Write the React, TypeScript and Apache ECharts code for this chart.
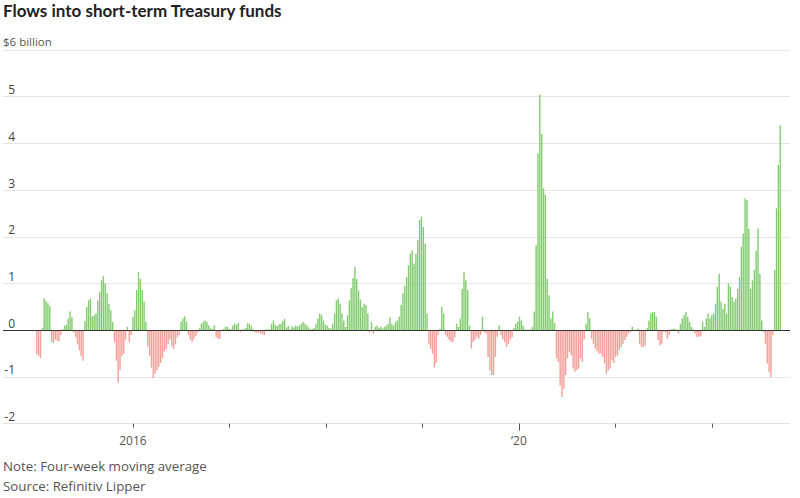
import React, { useEffect, useRef } from "react";
import * as echarts from "echarts";

// Weekly four-week moving average of flows, $ billion; first week ends Fri 2015-01-02
const START_UTC = Date.UTC(2015, 0, 2);

const weeks2015 = [
  -0.5, -0.55, -0.6, 0.05, 0.68, 0.62, 0.58, 0.52, -0.25, -0.27, -0.2, -0.22, -0.24, -0.1, 0.02, 0.1,
  0.12, 0.25, 0.4, 0.28, -0.04, -0.15, -0.3, -0.43, -0.55, -0.65, 0.2, 0.5, 0.64, 0.68, 0.3, 0.32,
  0.36, 0.64, 0.82, 1.07, 1.16, 1.0, 0.79, 0.57, 0.43, 0.18, -0.25, -0.65, -1.12, -0.85, -0.55, -0.5,
  -0.2, 0.07, -0.25, -0.1,
];
const weeks2016 = [
  0.29, 0.43, 0.86, 1.25, 1.1, 0.86, 0.62, 0.18, -0.35, -0.55, -0.8, -1.02, -0.93, -0.85, -0.78, -0.7,
  -0.6, -0.45, -0.4, -0.3, -0.2, -0.35, -0.4, -0.3, -0.15, -0.1, 0.18, 0.25, 0.3, 0.18, -0.1, -0.2,
  -0.25, -0.18, -0.12, -0.05, 0.04, 0.14, 0.18, 0.21, 0.18, 0.11, 0.04, 0.03, 0.1, -0.15, -0.18, -0.18,
  -0.02, 0.03, 0.07, 0.08,
];
const weeks2017 = [
  0.03, 0.02, 0.1, 0.14, 0.12, 0.16, -0.04, 0.02, 0.02, 0.05, 0.15, 0.14, 0.09, 0.02, -0.04, -0.06,
  -0.04, -0.07, -0.09, -0.1, 0.02, 0.02, 0.02, 0.14, 0.21, 0.11, 0.09, 0.13, 0.14, 0.2, 0.24, 0.06,
  0.09, 0.02, 0.08, 0.06, 0.1, 0.08, 0.1, 0.14, 0.18, 0.14, 0.1, 0.06, 0.02, 0.03, 0.05, 0.14,
  0.25, 0.36, 0.32, 0.21,
];
const weeks2018 = [
  0.12, 0.1, 0.05, 0.04, 0.14, 0.36, 0.64, 0.68, 0.57, 0.36, 0.21, 0.07, 0.32, 0.64, 0.9, 1.12,
  1.36, 1.1, 0.85, 0.66, 0.5, 0.57, 0.54, 0.36, -0.04, 0.18, -0.07, 0.07, 0.1, 0.05, 0.07, 0.04,
  0.07, 0.1, 0.14, 0.28, 0.14, 0.1, 0.18, 0.21, 0.29, 0.54, 0.79, 0.96, 1.14, 1.39, 1.64, 1.71,
  1.43, 1.64, 1.93, 2.36,
];
const weeks2019 = [
  2.43, 2.21, 1.86, 0.36, -0.3, -0.4, -0.5, -0.8, -0.7, -0.1, 0.04, 0.5, 0.36, -0.1, -0.14, -0.21,
  -0.25, -0.25, -0.15, 0.14, 0.07, 0.25, 0.89, 1.25, 1.07, 0.86, 0.1, -0.39, -0.25, -0.21, -0.14, -0.18,
  -0.1, 0.29, -0.04, -0.07, -0.57, -0.86, -0.96, -0.96, -0.57, -0.14, 0.1, -0.1, -0.2, -0.25, -0.36, -0.29,
  -0.2, -0.15, 0.05, 0.14,
];
const weeks2020 = [
  0.18, 0.29, 0.21, 0.1, 0.02, 0.01, 0.01, 0.02, 0.07, 0.4, 1.82, 3.79, 5.04, 4.2, 3.04, 2.9,
  1.1, 0.75, 0.25, 0.4, 0.15, -0.6, -0.68, -1.18, -1.43, -1.25, -0.96, -0.6, -0.46, -0.54, -0.82, -0.89,
  -0.85, -0.82, -0.6, -0.68, -0.2, 0.14, 0.39, 0.25, -0.18, -0.29, -0.39, -0.45, -0.5, -0.5, -0.57, -0.71,
  -0.93, -0.86, -0.82, -0.64,
];
const weeks2021 = [
  -0.7, -0.57, -0.54, -0.43, -0.36, -0.29, -0.21, -0.14, -0.07, -0.04, 0.07, 0.01, 0.01, 0.04, -0.29, -0.36,
  -0.36, -0.32, 0.05, 0.21, 0.36, 0.39, 0.39, 0.29, -0.21, -0.32, -0.29, -0.03, -0.05, -0.18, -0.1, 0.02,
  0.03, 0.03, 0.02, -0.07, 0.14, 0.25, 0.32, 0.39, 0.29, 0.18, 0.07, 0.02, -0.07, -0.14, -0.14, -0.12,
  0.18, 0.07, 0.25, 0.36,
];
const weeks2022 = [
  0.25, 0.32, 0.36, 0.57, 0.93, 1.21, 0.61, 0.46, 0.57, 0.36, 1.0, 0.93, 0.71, 0.61, 0.68, 0.89,
  1.14, 1.79, 2.07, 2.82, 2.79, 2.18, 0.89, 1.07, 1.29, 1.7, 2.18, 1.21, 0.21, -0.05, -0.29, -0.71,
  -0.89, -1.0, -0.1, 1.29, 2.61, 3.54, 4.39,
];

const yearTicks = ["2016-01-01", "2017-01-01", "2018-01-01", "2019-01-01", "2020-01-01", "2021-01-01", "2022-01-01"];
const labeledTicks = ["2016-01-01", "2020-01-01"];
const longTicks = ["2020-01-01"];
const yMin = -2;
const yMax = 6;
const axisStart = "2014-08-27";
const axisEnd = "2022-10-23";

const toUTC = (s: string) => {
  const [y, m, d] = s.split("-").map(Number);
  return Date.UTC(y, m - 1, d);
};

const FONT = "'Open Sans', 'Noto Sans', sans-serif";

export default function App() {
  const ref = useRef<HTMLDivElement>(null);
  useEffect(() => {
    if (!ref.current) return;
    const chart = echarts.init(ref.current, null, { renderer: "svg" });
    const values = [
      ...weeks2015, ...weeks2016, ...weeks2017, ...weeks2018,
      ...weeks2019, ...weeks2020, ...weeks2021, ...weeks2022,
    ];
    const WEEK = 7 * 86400000;
    const data = values.map((v, i) => [START_UTC + i * WEEK, v]);
    const min = toUTC(axisStart);
    const max = toUTC(axisEnd);
    const small = { fontFamily: FONT, fontSize: 11.5, fontWeight: "normal", color: "#555" };
    const foot = { fontFamily: FONT, fontSize: 13.3, fontWeight: "normal", color: "#555" };

    chart.setOption({
      animation: false,
      title: [
        {
          text: "Flows into short-term Treasury funds",
          left: 3,
          top: 2,
          padding: 0,
          textStyle: { fontFamily: "Lato, sans-serif", fontSize: 17, fontWeight: "bold", color: "#222" },
        },
        { text: "$6 billion", left: 3, top: 35, padding: 0, textStyle: small },
        { text: "Note: Four-week moving average", left: 3, top: 459, padding: 0, textStyle: foot },
        { text: "Source: Refinitiv Lipper", left: 3, top: 479, padding: 0, textStyle: foot },
      ],
      grid: { left: 3, right: 10, top: 50, bottom: 74.3, containLabel: false },
      xAxis: [
        {
          type: "value",
          min,
          max,
          axisLine: { show: true, onZero: false, lineStyle: { color: "#e2e2e2", width: 1 } },
          axisTick: {
            show: true,
            length: 4,
            lineStyle: { color: "#555", width: 1 },
            customValues: yearTicks.map(toUTC),
          },
          axisLabel: {
            show: true,
            margin: 11,
            color: "#555",
            fontFamily: FONT,
            fontSize: 12,
            customValues: labeledTicks.map(toUTC),
            formatter: (v: number) => {
              const y = new Date(v).getUTCFullYear();
              return y === 2016 ? "2016" : y === 2020 ? "\u201920" : "";
            },
          },
          splitLine: { show: false },
        },
        {
          type: "value",
          min,
          max,
          position: "bottom",
          axisLine: { show: false, onZero: false },
          axisTick: {
            show: true,
            length: 7,
            lineStyle: { color: "#555", width: 1 },
            customValues: longTicks.map(toUTC),
          },
          axisLabel: { show: false },
          splitLine: { show: false },
        },
      ],
      yAxis: {
        type: "value",
        min: yMin,
        max: yMax,
        interval: 1,
        axisLine: { show: false },
        axisTick: { show: false },
        splitLine: { show: true, lineStyle: { color: "#e6e6e6", width: 1 } },
        axisLabel: {
          inside: true,
          align: "right",
          verticalAlign: "bottom",
          margin: 12,
          padding: [0, 0, 1, 0],
          color: "#444",
          fontFamily: FONT,
          fontSize: 12,
          formatter: (v: number) => (v === yMax ? "" : String(v)),
        },
      },
      series: [
        {
          type: "bar",
          xAxisIndex: 0,
          data,
          barWidth: 1.4,
          itemStyle: {
            color: (p: any) => (p.value[1] >= 0 ? "#82cc6f" : "#f49f98"),
          },
          markLine: {
            silent: true,
            symbol: ["none", "none"],
            label: { show: false },
            lineStyle: { color: "#333", width: 1.2, type: "solid" },
            data: [{ yAxis: 0 }],
          },
        },
      ],
    });
    return () => chart.dispose();
  }, []);
  return (
    <div
      ref={ref}
      style={{ position: "absolute", left: 0, top: 0, width: 800, height: 498, background: "#fff" }}
    />
  );
}
